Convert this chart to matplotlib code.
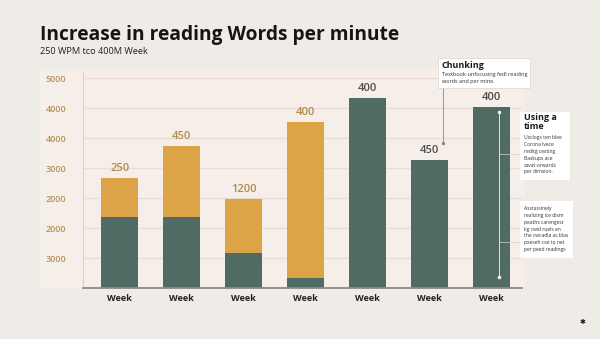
import matplotlib

matplotlib.use("Agg")
import matplotlib.pyplot as plt
from matplotlib.patches import Rectangle
import numpy as np

# weekly reading-speed bars: lower (teal) segment and upper (orange) segment
weeks = ["Week"] * 7
base = [1180, 1180, 580, 170, 3170, 2130, 3020]
extra = [650, 1190, 900, 2600, 0, 0, 0]
bar_labels = ["250", "450", "1200", "400", "400", "450", "400"]
grid_values = [500, 1000, 1500, 2000, 2500, 3000, 3500]
grid_labels = ["3000", "2000", "2000", "3000", "4000", "4000", "5000"]

TEAL = "#506b64"
GOLD = "#dca446"
TICK_GOLD = "#b8915a"
BG = "#efebe7"
PANEL = "#f6eee8"

plt.rcParams["font.family"] = ["Open Sans", "DejaVu Sans"]

fig = plt.figure(figsize=(6.0, 3.39), dpi=100, facecolor=BG)
ax_fig = fig.transFigure
# soft panel behind the tick labels and plot
fig.patches.append(Rectangle((40 / 600, 1 - 288 / 339), 483 / 600, 218 / 339,
                             transform=ax_fig, color=PANEL, zorder=-1))
ax = fig.add_axes([83 / 600, 1 - 288 / 339, 439 / 600, 216 / 339])
ax.set_facecolor(PANEL)

x = np.arange(len(weeks))
ax.bar(x, base, width=0.6, color=TEAL, zorder=2)
ax.bar(x, extra, width=0.6, bottom=base, color=GOLD, zorder=2)

totals = np.array(base) + np.array(extra)
for i, (tot, lab) in enumerate(zip(totals, bar_labels)):
    col = "#b08a4c" if extra[i] > 0 else "#4d4d4d"
    ax.text(i, tot + 70, lab, ha="center", va="bottom", fontsize=8,
            fontweight="semibold", color=col, zorder=3)

ax.set_xlim(-0.59, 6.49)
ax.set_ylim(0, 3600)
ax.set_xticks(x, weeks, fontsize=6.5, fontweight="bold", color="#222222")
ax.set_yticks(grid_values, grid_labels, fontsize=6.5, fontweight="semibold", color=TICK_GOLD)
ax.tick_params(axis="both", length=0)
ax.tick_params(axis="y", pad=12)
ax.tick_params(axis="x", pad=4)
ax.grid(axis="y", color="#eaddd3", linewidth=0.9, zorder=1)
for side in ("top", "right"):
    ax.spines[side].set_visible(False)
ax.spines["left"].set_color("#ddd2c9")
ax.spines["bottom"].set_color("#8f8a86")
ax.spines["bottom"].set_linewidth(1.3)

fig.text(40 / 600, 1 - 35 / 339, "Increase in reading Words per minute",
         fontsize=13.8, fontweight="bold", color="#151515", va="center")
fig.text(40 / 600, 1 - 51 / 339, "250 WPM tco 400M Week",
         fontsize=6.6, color="#222222", va="center")

# callout: chunking
fig.patches.append(Rectangle((438 / 600, 1 - 88 / 339), 92 / 600, 30 / 339,
                             transform=ax_fig, facecolor="white", edgecolor="#d6d6d6",
                             linewidth=0.5, zorder=3))
fig.text(442 / 600, 1 - 65 / 339, "Chunking", fontsize=6.5, fontweight="bold",
         color="#1a1a1a", va="center", zorder=4)
fig.text(442 / 600, 1 - 78 / 339, "Textbook-unfocusing fedl reading\nwords and per mine.",
         fontsize=4, color="#333333", va="center", linespacing=1.4, zorder=4)
fig.lines.append(plt.Line2D([443 / 600, 443 / 600], [1 - 88 / 339, 1 - 143 / 339],
                            transform=ax_fig, color="#8a8a8a", linewidth=0.6))
fig.lines.append(plt.Line2D([443 / 600], [1 - 143 / 339], transform=ax_fig,
                            marker="o", markersize=1.5, color="#8a8a8a"))

# callout: using a time
fig.patches.append(Rectangle((520 / 600, 1 - 180 / 339), 50 / 600, 68 / 339,
                             transform=ax_fig, facecolor="white", edgecolor="none", zorder=3))
fig.text(524 / 600, 1 - 122 / 339, "Using a\ntime", fontsize=6.5, fontweight="bold",
         color="#1a1a1a", va="center", linespacing=0.95, zorder=4)
fig.text(524 / 600, 1 - 155 / 339,
         "Usclogs ten blee\nCorona lvece\nreditg cesting\nBaskups ace\ncavat-orwards\nper dimsion.",
         fontsize=3.6, color="#333333", va="center", linespacing=1.45, zorder=4)

# callout: lower note
fig.patches.append(Rectangle((520 / 600, 1 - 258 / 339), 53 / 600, 57 / 339,
                             transform=ax_fig, facecolor="white", edgecolor="none", zorder=3))
fig.text(524 / 600, 1 - 229 / 339,
         "Asstatsinely\nrealizing ice dism\npeaths carengest\nkg cwid ruels en\n"
         "the cwcadla as blas\npxeseh cxe to net\nper peed readings",
         fontsize=3.6, color="#333333", va="center", linespacing=1.45, zorder=4)

# leader lines inside the last bar
fig.lines.append(plt.Line2D([499 / 600, 499 / 600], [1 - 112 / 339, 1 - 277 / 339],
                            transform=ax_fig, color="#dfe3e0", linewidth=0.7))
for yy in (112, 277):
    fig.lines.append(plt.Line2D([499 / 600], [1 - yy / 339], transform=ax_fig,
                                marker="o", markersize=1.6, color="#f2f0ec"))
for yy in (154, 242):
    fig.lines.append(plt.Line2D([499 / 600, 520 / 600], [1 - yy / 339, 1 - yy / 339],
                                transform=ax_fig, color="#d8d2cb", linewidth=0.5))

fig.text(583 / 600, 1 - 322 / 339, "✱", fontsize=5, color="#111111",
         ha="center", va="center", family=["DejaVu Sans"])

fig.savefig("out.png", dpi=100, facecolor=BG)
